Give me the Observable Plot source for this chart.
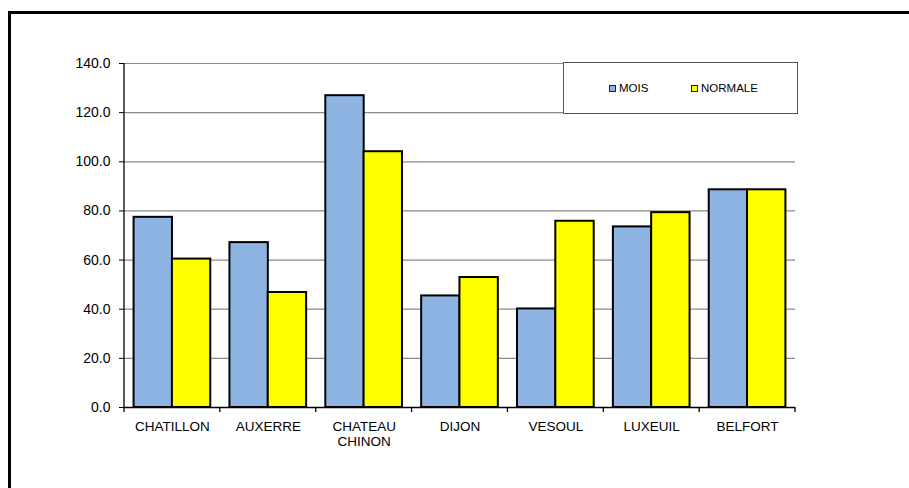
<!DOCTYPE html>
<html><head><meta charset="utf-8">
<script src="https://cdn.jsdelivr.net/npm/d3@7"></script>
<script src="https://cdn.jsdelivr.net/npm/@observablehq/plot@0.6"></script>
<style>
html,body{margin:0;padding:0;background:#fff;overflow:hidden;}
#wrap{position:relative;width:909px;height:488px;overflow:hidden;font-family:"Liberation Sans",Arial,sans-serif;background:#fff;}
#chart{position:absolute;left:0;top:0;}
#border{position:absolute;left:8px;top:11px;width:1200px;height:1200px;border:3px solid #000;pointer-events:none;}
#legend{position:absolute;left:563px;top:62px;width:233px;height:50px;border:1px solid #555;background:#fff;}
.item{position:absolute;top:0;height:50px;display:flex;align-items:center;font-size:11.5px;color:#000;}
.sw{width:5px;height:5px;border:1px solid #222;margin-right:3px;}
</style></head><body>
<div id="wrap"><div id="chart"></div><div id="legend"></div><div id="border"></div></div>
<script>
const cities = ["CHATILLON", "AUXERRE", "CHATEAU CHINON", "DIJON", "VESOUL", "LUXEUIL", "BELFORT"];
const mois = [77.4, 67.1, 126.9, 45.4, 40.1, 73.5, 88.6];
const normale = [60.4, 46.8, 104.1, 52.9, 75.8, 79.3, 88.6];
const seriesNames = ["MOIS", "NORMALE"];
const seriesColors = ["#8eb4e3", "#ffff00"];
const yTicks = [0, 20, 40, 60, 80, 100, 120, 140];

const rows = cities.flatMap((c, i) => [
  {city: c, series: seriesNames[0], value: mois[i]},
  {city: c, series: seriesNames[1], value: normale[i]}
]);

function makePlot(half) {
  return Plot.plot({
    width: 909, height: 488,
    marginLeft: 124, marginRight: 114, marginTop: 63, marginBottom: 81,
    style: {fontFamily: "'Liberation Sans', Arial, sans-serif", color: "#000", background: "transparent"},
    x: {domain: cities, paddingInner: 0.2, paddingOuter: 0.1, round: false, label: null},
    y: {domain: [0, 140], label: null},
    marks: [
      Plot.ruleY(yTicks.slice(1), {stroke: "#8a8a8a", strokeWidth: 1.2}),
      Plot.barY(rows.filter(d => d.series === seriesNames[0]), {x: "city", y: "value", fill: seriesColors[0], stroke: "#000", strokeWidth: 2, insetRight: half}),
      Plot.barY(rows.filter(d => d.series === seriesNames[1]), {x: "city", y: "value", fill: seriesColors[1], stroke: "#000", strokeWidth: 2, insetLeft: half}),
      Plot.ruleY([0], {stroke: "#000", strokeWidth: 1.3}),
      Plot.axisY({ticks: yTicks, tickFormat: d => d.toFixed(1), tickSize: 5, tickPadding: 9, fontSize: 14, label: null, stroke: "#000"}),
      Plot.axisX({tickSize: 0, tickPadding: 13, fontSize: 13.5, lineHeight: 1.12, label: null, tickFormat: d => d.replace(" ", "\n")})
    ]
  });
}

let plot = makePlot(38.3);
const xs0 = plot.scale("x");
if (xs0 && xs0.bandwidth && Math.abs(xs0.bandwidth / 2 - 38.3) > 0.2) plot = makePlot(xs0.bandwidth / 2);
document.getElementById("chart").appendChild(plot);

// Y axis line and category boundary ticks, from the plot's own scales
const xs = plot.scale("x"), ys = plot.scale("y");
const step = xs.step, bw = xs.bandwidth;
const bounds = cities.map(c => xs.apply(c) - (step - bw) / 2);
bounds.push(bounds[bounds.length - 1] + step);
const y0 = ys.apply(0), yTop = ys.apply(140);
const svg = d3.select(plot);
const g = svg.append("g").attr("stroke", "#000").attr("stroke-width", 1.3);
g.append("line").attr("x1", bounds[0]).attr("x2", bounds[0]).attr("y1", yTop).attr("y2", y0);
g.selectAll("line.b").data(bounds).join("line").attr("class", "b")
  .attr("x1", d => d).attr("x2", d => d).attr("y1", y0).attr("y2", y0 + 5);

// Legend
const leg = d3.select("#legend");
const legLeft = [45, 127];
seriesNames.forEach((s, i) => {
  const it = leg.append("div").attr("class", "item").style("left", legLeft[i] + "px");
  it.append("div").attr("class", "sw").style("background", seriesColors[i]);
  it.append("span").text(s);
});
</script>
</body></html>
